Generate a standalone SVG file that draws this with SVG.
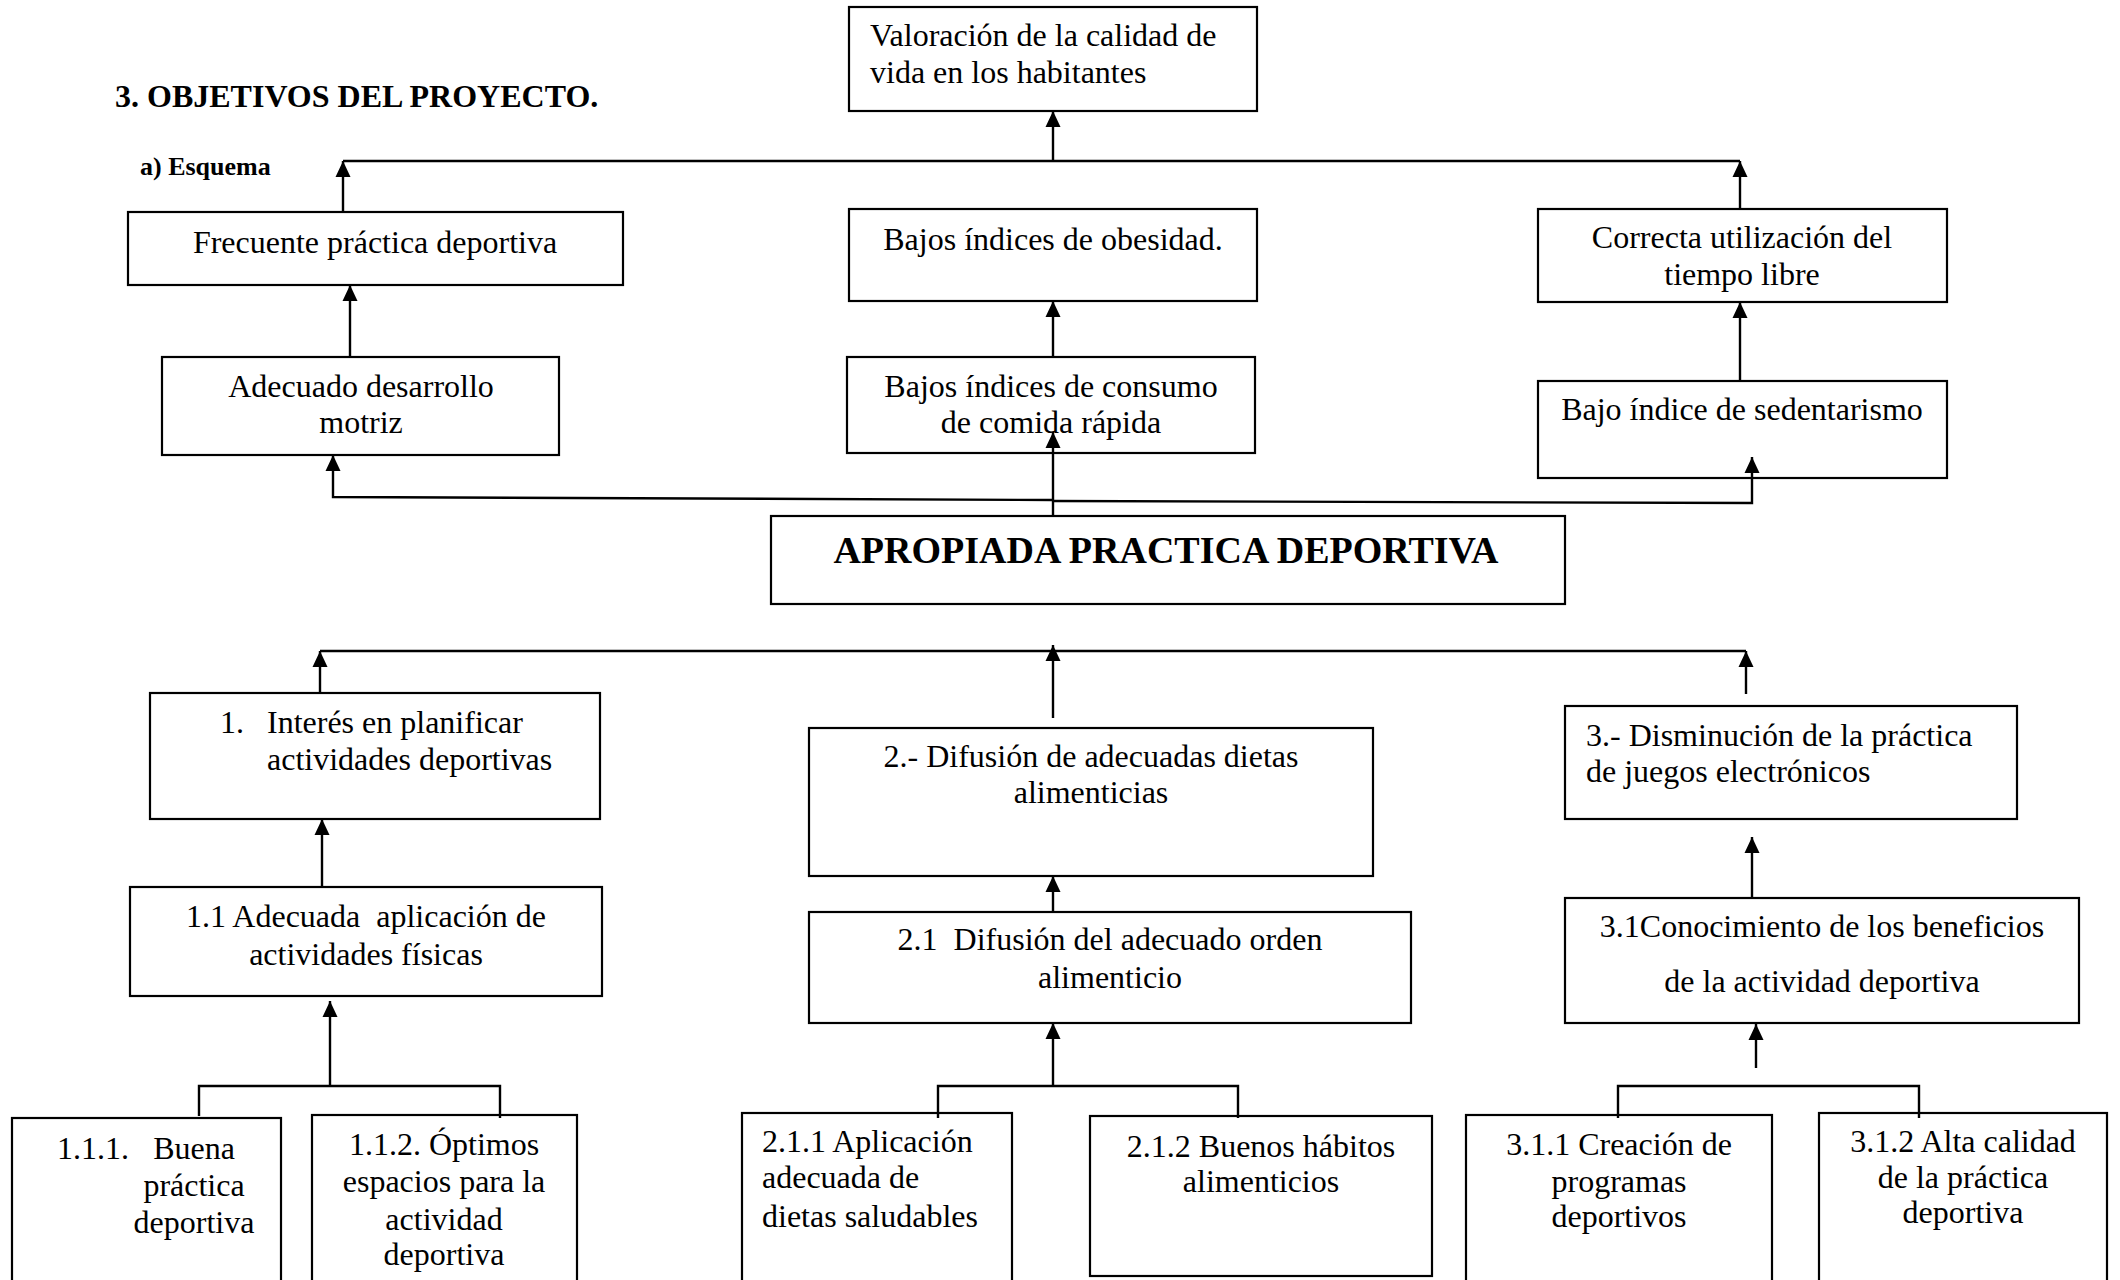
<svg xmlns="http://www.w3.org/2000/svg" width="2120" height="1280" viewBox="0 0 2120 1280">
<style>
.box{fill:#fff;stroke:#000;stroke-width:2.2}
.t{font-family:"Liberation Serif","Times New Roman",serif;font-size:32px;fill:#000}
.c{text-anchor:middle}
.b{font-weight:bold}
.ln{fill:none;stroke:#000;stroke-width:2.4}
</style>
<defs>
<marker id="ah" markerUnits="userSpaceOnUse" markerWidth="18" markerHeight="16" refX="16" refY="8" orient="auto">
<path d="M0,0.5 L16,8 L0,15.5 z" fill="#000"/>
</marker>
</defs>
<rect width="2120" height="1280" fill="#fff"/>
<text class="t b" x="115" y="107">3. OBJETIVOS DEL PROYECTO.</text>
<text class="t b" x="140" y="175" style="font-size:26px">a) Esquema</text>

<g id="valoracion"><rect class="box" x="849" y="7" width="408" height="104"/>
<text class="t" x="870" y="46">Valoración de la calidad de</text><text class="t" x="870" y="83">vida en los habitantes</text></g>
<g id="frecuente"><rect class="box" x="128" y="212" width="495" height="73"/>
<text class="t c" x="375" y="253">Frecuente práctica deportiva</text></g>
<g id="obesidad"><rect class="box" x="849" y="209" width="408" height="92"/>
<text class="t c" x="1053" y="250">Bajos índices de obesidad.</text></g>
<g id="correcta"><rect class="box" x="1538" y="209" width="409" height="93"/>
<text class="t c" x="1742" y="248">Correcta utilización del</text><text class="t c" x="1742" y="285">tiempo libre</text></g>
<g id="adecuado"><rect class="box" x="162" y="357" width="397" height="98"/>
<text class="t c" x="361" y="397">Adecuado desarrollo</text><text class="t c" x="361" y="433">motriz</text></g>
<g id="consumo"><rect class="box" x="847" y="357" width="408" height="96"/>
<text class="t c" x="1051" y="397">Bajos índices de consumo</text><text class="t c" x="1051" y="433">de comida rápida</text></g>
<g id="sedentarismo"><rect class="box" x="1538" y="381" width="409" height="97"/>
<text class="t c" x="1742" y="420">Bajo índice de sedentarismo</text></g>
<g id="apropiada"><rect class="box" x="771" y="516" width="794" height="88"/>
<text class="t c b" x="1166" y="563" style="font-size:38px">APROPIADA PRACTICA DEPORTIVA</text></g>

<g id="interes"><rect class="box" x="150" y="693" width="450" height="126"/>
<text class="t" x="220" y="733">1.</text><text class="t" x="267" y="733">Interés en planificar</text><text class="t" x="267" y="770">actividades deportivas</text></g>
<g id="difusion"><rect class="box" x="809" y="728" width="564" height="148"/>
<text class="t c" x="1091" y="767">2.- Difusión de adecuadas dietas</text><text class="t c" x="1091" y="803">alimenticias</text></g>
<g id="disminucion"><rect class="box" x="1565" y="706" width="452" height="113"/>
<text class="t" x="1586" y="746">3.- Disminución de la práctica</text><text class="t" x="1586" y="782">de juegos electrónicos</text></g>
<g id="n11"><rect class="box" x="130" y="887" width="472" height="109"/>
<text class="t c" x="366" y="927" xml:space="preserve">1.1 Adecuada  aplicación de</text><text class="t c" x="366" y="965">actividades físicas</text></g>
<g id="n21"><rect class="box" x="809" y="912" width="602" height="111"/>
<text class="t c" x="1110" y="950" xml:space="preserve">2.1  Difusión del adecuado orden</text><text class="t c" x="1110" y="988">alimenticio</text></g>
<g id="n31"><rect class="box" x="1565" y="898" width="514" height="125"/>
<text class="t c" x="1822" y="937">3.1Conocimiento de los beneficios</text><text class="t c" x="1822" y="992">de la actividad deportiva</text></g>

<g id="n111"><rect class="box" x="12" y="1118" width="269" height="200"/>
<text class="t" x="57" y="1159">1.1.1.</text><text class="t c" x="194" y="1159">Buena</text><text class="t c" x="194" y="1196">práctica</text><text class="t c" x="194" y="1233">deportiva</text></g>
<g id="n112"><rect class="box" x="312" y="1115" width="265" height="200"/>
<text class="t c" x="444" y="1155">1.1.2. Óptimos</text><text class="t c" x="444" y="1192">espacios para la</text><text class="t c" x="444" y="1230">actividad</text><text class="t c" x="444" y="1265">deportiva</text></g>
<g id="n211"><rect class="box" x="742" y="1113" width="270" height="200"/>
<text class="t" x="762" y="1152">2.1.1 Aplicación</text><text class="t" x="762" y="1188">adecuada de</text><text class="t" x="762" y="1227">dietas saludables</text></g>
<g id="n212"><rect class="box" x="1090" y="1116" width="342" height="160"/>
<text class="t c" x="1261" y="1157">2.1.2 Buenos hábitos</text><text class="t c" x="1261" y="1192">alimenticios</text></g>
<g id="n311"><rect class="box" x="1466" y="1115" width="306" height="200"/>
<text class="t c" x="1619" y="1155">3.1.1 Creación de</text><text class="t c" x="1619" y="1192">programas</text><text class="t c" x="1619" y="1227">deportivos</text></g>
<g id="n312"><rect class="box" x="1819" y="1113" width="288" height="200"/>
<text class="t c" x="1963" y="1152">3.1.2 Alta calidad</text><text class="t c" x="1963" y="1188">de la práctica</text><text class="t c" x="1963" y="1223">deportiva</text></g>

<g id="connectors">
<path class="ln" d="M343,161 H1740"/>
<path class="ln" d="M343,212 V161" marker-end="url(#ah)"/>
<path class="ln" d="M1053,161 V111" marker-end="url(#ah)"/>
<path class="ln" d="M1740,209 V161" marker-end="url(#ah)"/>
<path class="ln" d="M350,357 V285" marker-end="url(#ah)"/>
<path class="ln" d="M1053,357 V301" marker-end="url(#ah)"/>
<path class="ln" d="M1740,381 V302" marker-end="url(#ah)"/>
<path class="ln" d="M1053,516 V432" marker-end="url(#ah)"/>
<path class="ln" d="M1053,500 L333,497 V455" marker-end="url(#ah)"/>
<path class="ln" d="M1053,501 L1752,503 V457" marker-end="url(#ah)"/>
<path class="ln" d="M320,651 H1746"/>
<path class="ln" d="M320,693 V651" marker-end="url(#ah)"/>
<path class="ln" d="M1053,718 V645" marker-end="url(#ah)"/>
<path class="ln" d="M1746,694 V651" marker-end="url(#ah)"/>
<path class="ln" d="M322,887 V819" marker-end="url(#ah)"/>
<path class="ln" d="M1053,912 V876" marker-end="url(#ah)"/>
<path class="ln" d="M1752,898 V837" marker-end="url(#ah)"/>
<path class="ln" d="M330,1086 V1001" marker-end="url(#ah)"/>
<path class="ln" d="M199,1116 V1086 H500 V1118"/>
<path class="ln" d="M1053,1086 V1023" marker-end="url(#ah)"/>
<path class="ln" d="M938,1118 V1086 H1238 V1118"/>
<path class="ln" d="M1756,1068 V1024" marker-end="url(#ah)"/>
<path class="ln" d="M1618,1118 V1086 H1919 V1118"/>
</g>
</svg>
